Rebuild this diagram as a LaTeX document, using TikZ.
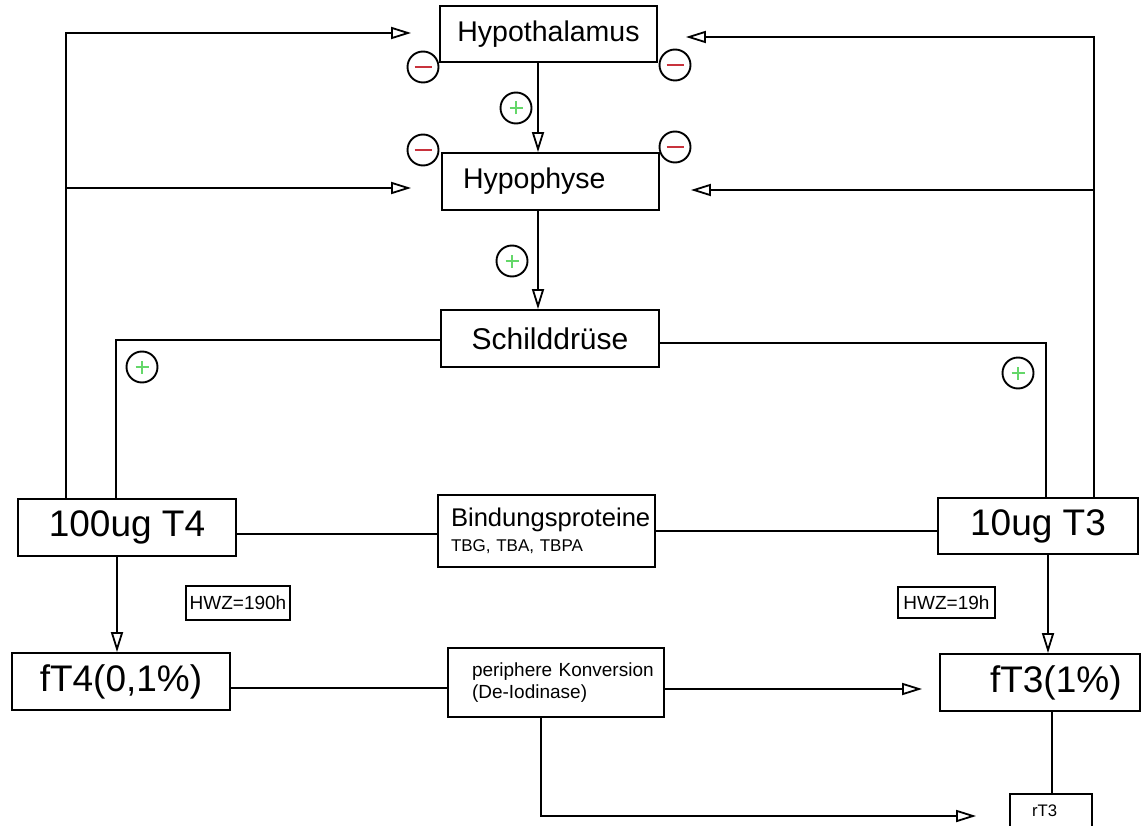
\documentclass[tikz,border=0pt]{standalone}
\usepackage{fontspec}
\setmainfont{Liberation Sans}
\usetikzlibrary{arrows.meta}
\definecolor{hemm}{RGB}{200,50,60}
\definecolor{stim}{RGB}{100,215,105}
\newcommand{\fsz}[2]{\fontsize{#1}{#2}\selectfont}

\begin{document}
\frenchspacing
\begin{tikzpicture}[x=1pt,y=-1pt,line width=1.8pt,
 bx/.style={draw,line width=1.8pt,inner sep=0pt,minimum height=57pt},
 arr/.style={-{Triangle[open,length=20pt,width=12pt]}},
 inh/.style={circle,draw,line width=1.9pt,minimum size=31pt,inner sep=0pt,
   path picture={\draw[hemm,line width=2.2pt]([xshift=-8.5pt]path picture bounding box.center)--++(17pt,0);}},
 exc/.style={circle,draw,line width=1.9pt,minimum size=31pt,inner sep=0pt,
   path picture={\draw[stim,line width=2.2pt]([xshift=-6.5pt]path picture bounding box.center)--++(13pt,0)
     ([yshift=-6.5pt]path picture bounding box.center)--++(0,13pt);}}]
 \useasboundingbox (0,0) rectangle (1142,826);
 \node[bx,minimum width=217pt,minimum height=56pt,font=\fsz{28.5}{30}](hypo) at (548.5,34){Hypothalamus};
 \node[bx,minimum width=217pt,text width=175pt,align=left,inner xsep=21pt,font=\fsz{28.5}{30}](hyph) at (550.5,181.5){Hypophyse};
 \node[bx,minimum width=218pt,font=\fsz{30}{32}](sd) at (550,338.5){Schilddrüse};
 \node[bx,minimum width=218pt,font=\fsz{37}{40}](t4) at (127,527.5){100ug T4};
 \node[bx,minimum width=217pt,minimum height=72pt,text width=191pt,align=left,inner xsep=13pt,font=\fsz{17}{25}](bind) at (546.5,531)
   {\mbox{\fsz{25.6}{25}Bindungsproteine}\\TBG, TBA, TBPA};
 \node[bx,minimum width=200pt,minimum height=56pt,font=\fsz{37}{40}](t3) at (1038,526){10ug T3};
 \node[bx,minimum width=104pt,minimum height=34pt,font=\fsz{19}{22}](hwzv) at (238,603){HWZ=190h};
 \node[bx,minimum width=97pt,minimum height=31pt,font=\fsz{19}{22}](hwzd) at (946.5,602.5){HWZ=19h};
 \node[bx,minimum width=218pt,font=\fsz{37}{40}](ft4) at (121,681.5){fT4(0,1\%)};
 \node[bx,minimum width=216pt,minimum height=69pt,text width=168pt,align=left,inner xsep=24pt,font=\fsz{19}{22}](konv) at (556,682.5)
   {\mbox{periphere Konversion}\\(De-Iodinase)};
 \node[bx,minimum width=200pt,text width=100pt,align=left,inner xsep=50pt,font=\fsz{37}{40}](ft3) at (1040,682.5){\mbox{fT3(1\%)}};
 \node[bx,minimum width=82pt,minimum height=34pt,text width=38pt,align=left,inner xsep=22pt,font=\fsz{16.7}{19}](rt3) at (1051,811){rT3};
 \node[inh](i1) at (423,67){};
 \node[inh](i2) at (675,65){};
 \node[inh](i3) at (423,150){};
 \node[inh](i4) at (675,147){};
 \node[exc](e1) at (516,108){};
 \node[exc](e2) at (512,261){};
 \node[exc](e3) at (142,367){};
 \node[exc](e4) at (1018,373){};
 \coordinate (lfb) at (66,499);
 \coordinate (rfb) at (1094,498);
 \draw[arr,shorten >=28pt](lfb) |- ([yshift=1pt]hypo.west);
 \draw[arr,shorten >=30pt]([yshift=-6.5pt]hyph.west -| lfb) -- ([yshift=-6.5pt]hyph.west);
 \draw[arr,shorten >=28pt](rfb) |- ([yshift=-3pt]hypo.east);
 \draw[arr,shorten >=31pt]([yshift=-8.5pt]hyph.east -| rfb) -- ([yshift=-8.5pt]hyph.east);
 \draw[arr]([xshift=-10.5pt]hypo.south) -- ([xshift=-10.5pt]hypo.south |- hyph.north);
 \draw[arr]([xshift=-12.5pt]hyph.south) -- ([xshift=-12.5pt]hyph.south |- sd.north);
 \draw([yshift=-1.5pt]sd.west) -| ([xshift=-11pt]t4.north);
 \draw([yshift=-4.5pt]sd.east) -| ([xshift=8pt]t3.north);
 \draw[arr]([xshift=-10pt]t4.south) -- ([xshift=-10pt]t4.south |- ft4.north);
 \draw[arr]([xshift=10pt]t3.south) -- ([xshift=10pt]t3.south |- ft3.north);
 \draw([yshift=-6.5pt]t4.east) -- ([yshift=-6.5pt]t4.east -| bind.west);
 \draw(bind.east) -- (bind.east -| t3.west);
 \draw([yshift=-6.5pt]ft4.east) -- ([yshift=-6.5pt]ft4.east -| konv.west);
 \draw[arr,shorten >=17pt]([yshift=-6.5pt]konv.east) -- ([yshift=-6.5pt]konv.east -| ft3.west);
 \draw[arr,shorten >=33pt]([xshift=-15pt]konv.south) |- ([yshift=-5pt]rt3.west);
 \draw([xshift=12pt]ft3.south) -- ([xshift=12pt]ft3.south |- rt3.north);
\end{tikzpicture}
\end{document}
